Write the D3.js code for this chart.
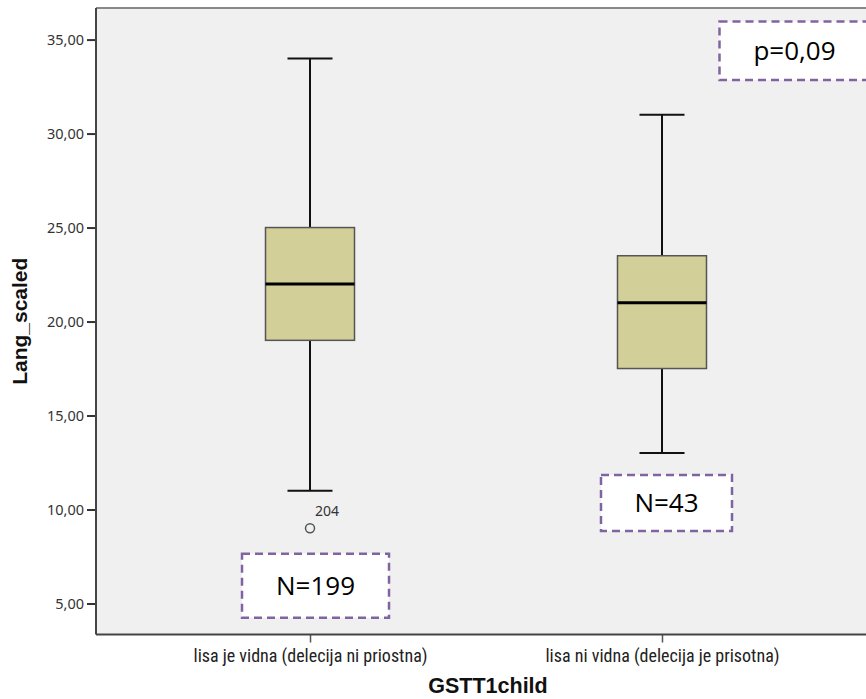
<!DOCTYPE html>
<html><head><meta charset="utf-8">
<script src="https://cdn.jsdelivr.net/npm/d3@7"></script>
<style>body{margin:0;background:#fff}svg{display:block}</style>
</head><body><svg id="c" width="866" height="699"></svg>
<script>
const categories = ["lisa je vidna (delecija ni priostna)", "lisa ni vidna (delecija je prisotna)"];
const whiskerLow = [11, 13];
const q1 = [19, 17.5];
const median = [22, 21];
const q3 = [25, 23.5];
const whiskerHigh = [34, 31];
const outliers = [{cat: 0, value: 9, label: "204"}];
const yTicks = [5, 10, 15, 20, 25, 30, 35];
const nLabels = [{cat: 0, text: "N=199", value: 5.95}, {cat: 1, text: "N=43", value: 10.35}];
const pLabel = "p=0,09";

const svg = d3.select("#c");
const L = 96, T = 8, B = 634.5, R = 876;
const y = d3.scaleLinear().domain([3.35, 36.68]).range([B, T]);
const x = d3.scalePoint().domain(categories).range([L, R]).padding(0.608);

svg.append("rect").attr("x", L).attr("y", T).attr("width", R - L).attr("height", B - T).attr("fill", "#f0f0f0");

// axes
const yAxis = svg.append("g").attr("transform", `translate(${L},0)`)
  .call(d3.axisLeft(y).tickValues(yTicks).tickSize(9).tickPadding(3).tickFormat(d => d3.format(".2f")(d).replace(".", ",")));
yAxis.select(".domain").remove();
yAxis.selectAll("line").attr("stroke", "#333").attr("stroke-width", 2);
yAxis.selectAll("text").attr("font-family", "'Noto Sans', 'Open Sans', sans-serif").attr("font-size", 14.5).attr("fill", "#333");

const xAxis = svg.append("g").attr("transform", `translate(0,${B})`)
  .call(d3.axisBottom(x).tickSize(8).tickPadding(7));
xAxis.select(".domain").remove();
xAxis.selectAll("line").attr("stroke", "#555").attr("stroke-width", 1.5);
xAxis.selectAll("text").attr("font-family", "'Liberation Sans Narrow', 'Roboto Condensed', 'Roboto', sans-serif").attr("font-size", 18).attr("fill", "#222");

// frame
svg.append("line").attr("x1", L).attr("x2", R).attr("y1", T).attr("y2", T).attr("stroke", "#888").attr("stroke-width", 2);
svg.append("line").attr("x1", L).attr("x2", L).attr("y1", T).attr("y2", B).attr("stroke", "#444").attr("stroke-width", 2);
svg.append("line").attr("x1", L).attr("x2", R).attr("y1", B).attr("y2", B).attr("stroke", "#444").attr("stroke-width", 2);

const boxW = 89, capW = 45;
categories.forEach((c, i) => {
  const cx = x(c);
  const g = svg.append("g");
  g.append("line").attr("x1", cx).attr("x2", cx).attr("y1", y(whiskerHigh[i])).attr("y2", y(q3[i])).attr("stroke", "#111").attr("stroke-width", 2);
  g.append("line").attr("x1", cx).attr("x2", cx).attr("y1", y(q1[i])).attr("y2", y(whiskerLow[i])).attr("stroke", "#111").attr("stroke-width", 2);
  [whiskerHigh[i], whiskerLow[i]].forEach(v => {
    g.append("line").attr("x1", cx - capW / 2).attr("x2", cx + capW / 2).attr("y1", y(v)).attr("y2", y(v)).attr("stroke", "#111").attr("stroke-width", 2);
  });
  g.append("rect").attr("x", cx - boxW / 2).attr("y", y(q3[i])).attr("width", boxW).attr("height", y(q1[i]) - y(q3[i]))
    .attr("fill", "#d3cf98").attr("stroke", "#555").attr("stroke-width", 1.5);
  g.append("line").attr("x1", cx - boxW / 2).attr("x2", cx + boxW / 2).attr("y1", y(median[i])).attr("y2", y(median[i])).attr("stroke", "#000").attr("stroke-width", 3);
});

outliers.forEach(o => {
  const cx = x(categories[o.cat]);
  svg.append("circle").attr("cx", cx).attr("cy", y(o.value)).attr("r", 4.5).attr("fill", "none").attr("stroke", "#555").attr("stroke-width", 1.5);
  svg.append("text").attr("x", cx + 5).attr("y", y(o.value) - 12).attr("font-family", "'Noto Sans', sans-serif").attr("font-size", 14).attr("fill", "#333").text(o.label);
});

// annotation boxes
function annot(x0, y0, w, h, text) {
  svg.append("rect").attr("x", x0).attr("y", y0).attr("width", w).attr("height", h)
    .attr("fill", "#fff").attr("stroke", "#8064a2").attr("stroke-width", 2.5).attr("stroke-dasharray", "8,5");
  svg.append("text").attr("x", x0 + w / 2).attr("y", y0 + h / 2).attr("dy", "0.35em").attr("text-anchor", "middle")
    .attr("font-family", "'Open Sans', 'Noto Sans', sans-serif").attr("font-size", 26).attr("fill", "#000").text(text);
}
nLabels.forEach(n => {
  const cx = x(categories[n.cat]);
  const w = n.cat === 0 ? 147 : 131, h = n.cat === 0 ? 64 : 56;
  const off = n.cat === 0 ? -68 : -61;
  annot(cx + off, y(n.value) - h / 2, w, h, n.text);
});
annot(719.5, 21.5, 150, 58.5, pLabel);

// titles
svg.append("text").attr("transform", `translate(27,${(T + B) / 2}) rotate(-90)`).attr("text-anchor", "middle")
  .attr("font-family", "'Liberation Sans', Arial, sans-serif").attr("font-weight", "bold").attr("font-size", 21).attr("fill", "#111").text("Lang_scaled");
svg.append("text").attr("x", 488).attr("y", 693).attr("text-anchor", "middle")
  .attr("font-family", "'Liberation Sans', Arial, sans-serif").attr("font-weight", "bold").attr("font-size", 21.5).attr("fill", "#111").text("GSTT1child");
</script></body></html>
